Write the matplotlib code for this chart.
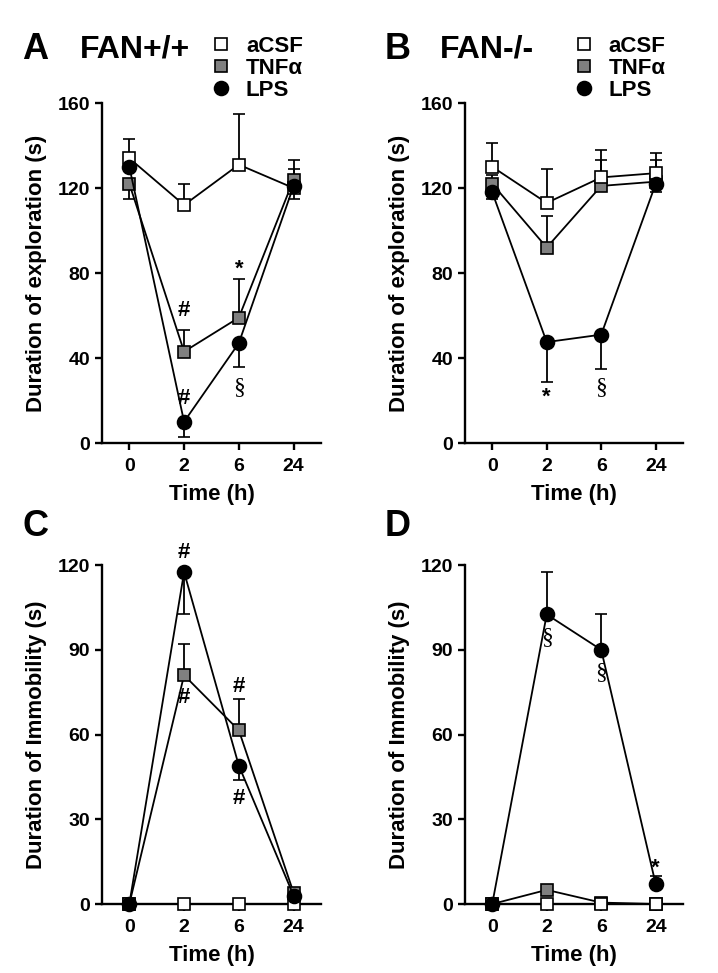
import matplotlib
matplotlib.use("Agg")
import matplotlib.pyplot as plt
import numpy as np
from matplotlib.lines import Line2D

plt.rcParams['font.family'] = ['Liberation Sans', 'DejaVu Sans']
plt.rcParams['font.weight'] = 'bold'

time_labels = ['0', '2', '6', '24']
groups = ['aCSF', 'TNFα', 'LPS']

# exploration, FAN+/+  (mean, sem, direction of the error bar: 1 up / -1 down)
expl_wt = {'aCSF': [134, 112, 131, 120], 'TNFα': [122, 43, 59, 124], 'LPS': [130, 10, 47, 121]}
expl_wt_sem = {'aCSF': [9, 10, 24, 5], 'TNFα': [7, 10, 18, 5], 'LPS': [5, 7, 11, 12]}
expl_wt_dir = {'aCSF': [1, 1, 1, -1], 'TNFα': [-1, 1, 1, 1], 'LPS': [1, -1, -1, 1]}

# exploration, FAN-/-
expl_ko = {'aCSF': [130, 113, 125, 127], 'TNFα': [122, 92, 121, 123], 'LPS': [118, 47.5, 51, 122]}
expl_ko_sem = {'aCSF': [11, 16, 13, 9.5], 'TNFα': [4, 15, 12, 10], 'LPS': [3, 19, 16, 4]}
expl_ko_dir = {'aCSF': [1, 1, 1, 1], 'TNFα': [1, 1, 1, 1], 'LPS': [-1, -1, -1, -1]}

# immobility, FAN+/+
immo_wt = {'aCSF': [0, 0, 0, 0], 'TNFα': [0, 81, 61.5, 4], 'LPS': [0, 117.5, 49, 3]}
immo_wt_sem = {'aCSF': [0, 0, 0, 0], 'TNFα': [0, 11, 11, 0], 'LPS': [0, 15, 5, 0]}
immo_wt_dir = {'aCSF': [1, 1, 1, 1], 'TNFα': [1, 1, 1, 1], 'LPS': [-1, -1, -1, -1]}

# immobility, FAN-/-
immo_ko = {'aCSF': [0, 0, 0, 0], 'TNFα': [0, 5, 0.5, 0], 'LPS': [0, 102.5, 90, 7]}
immo_ko_sem = {'aCSF': [0, 0, 0, 0], 'TNFα': [0, 1.5, 0, 0], 'LPS': [0, 15, 12.5, 3]}
immo_ko_dir = {'aCSF': [1, 1, 1, 1], 'TNFα': [1, 1, 1, 1], 'LPS': [1, 1, 1, 1]}

# significance marks: (time index, y, symbol)
marks_a = [(1, 62.5, '#'), (1, 21, '#'), (2, 82, '*'), (2, 26, '§')]
marks_b = [(1, 21.5, '*'), (2, 26, '§')]
marks_c = [(1, 124.6, '#'), (1, 73, '#'), (2, 77, '#'), (2, 37.5, '#')]
marks_d = [(1, 94.5, '§'), (2, 82, '§'), (3, 12.5, '*')]

styles = {
    'aCSF': dict(marker='s', mfc='white', ms=9),
    'TNFα': dict(marker='s', mfc='#808080', ms=9),
    'LPS': dict(marker='o', mfc='black', ms=10),
}
draw_order = ['TNFα', 'aCSF', 'LPS']

fig = plt.figure(figsize=(7.18, 9.73), dpi=100)
ax_a = fig.add_axes([0.142, 0.5447, 0.305, 0.3494])
ax_b = fig.add_axes([0.6476, 0.5447, 0.3036, 0.3494])
ax_c = fig.add_axes([0.142, 0.0709, 0.305, 0.3484])
ax_d = fig.add_axes([0.6476, 0.0709, 0.3036, 0.3484])

x = np.arange(len(time_labels))


def draw(ax, vals, sem, dirs, ylabel, yticks, marks):
    for g in draw_order:
        s = np.array(sem[g], dtype=float)
        d = np.array(dirs[g])
        lo = np.where(d < 0, s, 0)
        hi = np.where(d > 0, s, 0)
        ax.errorbar(x, vals[g], yerr=[lo, hi], color='black', lw=1.3,
                    elinewidth=1.3, capsize=4, capthick=1.3, mec='black',
                    mew=1.2, clip_on=False, zorder=3, **styles[g])
    for i, y, sym in marks:
        fam = ['Liberation Serif'] if sym == '§' else ['Liberation Sans']
        ax.text(x[i], y, sym, ha='center', va='center',
                fontsize=17 if sym == '§' else 16,
                fontweight='bold' if sym != '§' else 'normal', family=fam, zorder=5)
    ax.set_xlim(-0.5, 3.5)
    ax.set_ylim(yticks[0], yticks[-1])
    ax.set_xticks(x)
    ax.set_xticklabels(time_labels)
    ax.set_yticks(yticks)
    ax.spines['top'].set_visible(False)
    ax.spines['right'].set_visible(False)
    for sp in ['left', 'bottom']:
        ax.spines[sp].set_linewidth(1.7)
    ax.tick_params(width=1.7, length=5, labelsize=14)
    ax.tick_params(axis='x', pad=6)
    ax.set_xlabel('Time (h)', fontsize=16, fontweight='bold', labelpad=6)
    ax.set_ylabel(ylabel, fontsize=16, fontweight='bold', labelpad=8)


draw(ax_a, expl_wt, expl_wt_sem, expl_wt_dir, 'Duration of exploration (s)', [0, 40, 80, 120, 160], marks_a)
draw(ax_b, expl_ko, expl_ko_sem, expl_ko_dir, 'Duration of exploration (s)', [0, 40, 80, 120, 160], marks_b)
draw(ax_c, immo_wt, immo_wt_sem, immo_wt_dir, 'Duration of Immobility (s)', [0, 30, 60, 90, 120], marks_c)
draw(ax_d, immo_ko, immo_ko_sem, immo_ko_dir, 'Duration of Immobility (s)', [0, 30, 60, 90, 120], marks_d)

# legends
handles = [Line2D([], [], ls='none', mec='black', mew=1.2, **styles[g]) for g in groups]
for ax in (ax_a, ax_b):
    ax.legend(handles, groups, loc='lower left', bbox_to_anchor=(0.505, 1.006),
              frameon=False, fontsize=16, handlelength=0.8, handletextpad=0.7,
              labelspacing=0.05, borderpad=0, borderaxespad=0)

# panel letters and titles
fig.text(0.031, 0.949, 'A', fontsize=26, fontweight='bold', va='center')
fig.text(0.111, 0.949, 'FAN+/+', fontsize=23, fontweight='bold', va='center')
fig.text(0.536, 0.949, 'B', fontsize=26, fontweight='bold', va='center')
fig.text(0.613, 0.949, 'FAN-/-', fontsize=23, fontweight='bold', va='center')
fig.text(0.031, 0.459, 'C', fontsize=26, fontweight='bold', va='center')
fig.text(0.536, 0.459, 'D', fontsize=26, fontweight='bold', va='center')

fig.savefig('out.png', dpi=100)
